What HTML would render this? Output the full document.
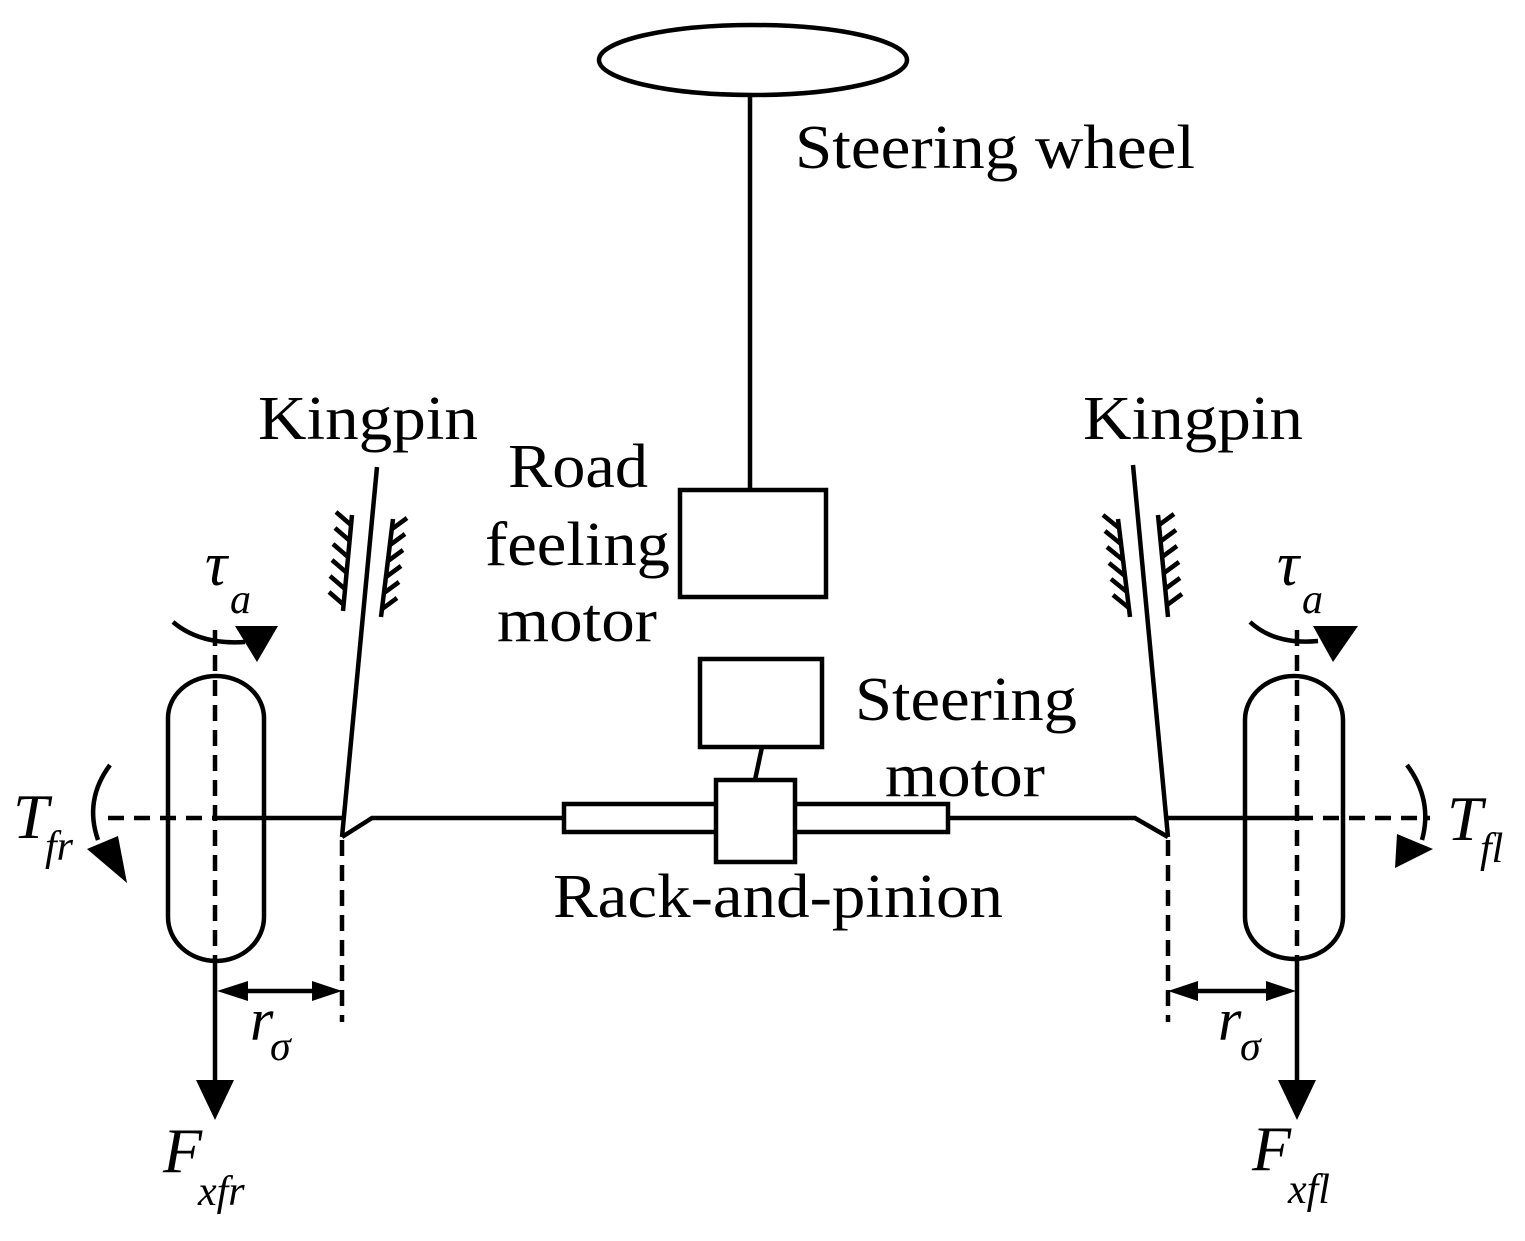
<!DOCTYPE html>
<html><head><meta charset="utf-8"><style>
html,body{margin:0;padding:0;background:#fff;}
svg{display:block;}
text{font-family:"Liberation Serif",serif;fill:#000;}
.it{font-style:italic;}
</style></head><body>
<svg width="1525" height="1241" viewBox="0 0 1525 1241" xmlns="http://www.w3.org/2000/svg">
<g stroke="#000" stroke-width="4.5" fill="none" stroke-linecap="butt">
<ellipse cx="753" cy="60" rx="154" ry="35"/>
<line x1="750" y1="95" x2="750" y2="490"/>
<rect x="680" y="490" width="146" height="107"/>
<rect x="700" y="659" width="122" height="88"/>
<line x1="762" y1="747" x2="755" y2="780"/>
<rect x="564" y="804" width="384" height="28"/>
<rect x="716" y="780" width="79" height="82" fill="#fff"/>
<polyline points="342,837 372,818 564,818"/>
<polyline points="948,818 1135,818 1168,837"/>
<line x1="215" y1="818" x2="342" y2="818"/>
<line x1="1168" y1="818" x2="1297" y2="818"/>
<line x1="108" y1="818" x2="215" y2="818" stroke-dasharray="16,10"/>
<line x1="1297" y1="818" x2="1430" y2="818" stroke-dasharray="16,10"/>
<line x1="377" y1="467" x2="342" y2="837"/>
<line x1="1133" y1="465" x2="1168" y2="837"/>
<line x1="342" y1="840" x2="342" y2="1022" stroke-dasharray="16,9"/>
<line x1="1168" y1="840" x2="1168" y2="1022" stroke-dasharray="16,9"/>
<line x1="352" y1="515" x2="343" y2="611"/>
<path d="M351,525 l-15,-13 M350,541 l-15,-13 M348,557 l-15,-13 M347,573 l-15,-13 M345,589 l-15,-13 M344,605 l-15,-13"/>
<line x1="393" y1="519" x2="381" y2="617"/>
<path d="M392,529 l15,-11 M390,545 l15,-11 M388,561 l15,-11 M386,577 l15,-11 M384,593 l15,-11 M382,609 l15,-11"/>
<line x1="1118" y1="519" x2="1130" y2="617"/>
<path d="M1119,528 l-16,-13 M1121,544 l-16,-13 M1123,560 l-16,-13 M1125,576 l-16,-13 M1127,592 l-16,-13 M1129,608 l-16,-13"/>
<line x1="1158" y1="515" x2="1168" y2="617"/>
<path d="M1159,525 l15,-11 M1161,541 l15,-11 M1162,557 l15,-11 M1164,573 l15,-11 M1165,589 l15,-11 M1167,605 l15,-11"/>
<path d="M168,718 A48,42 0 0 1 264,718 L264,917 A48,44 0 0 1 168,917 Z"/>
<path d="M1245,720 A49,44 0 0 1 1343,720 L1343,917 A49,42 0 0 1 1245,917 Z"/>
<line x1="215" y1="630" x2="215" y2="961" stroke-dasharray="16,9"/>
<line x1="1297" y1="630" x2="1297" y2="959" stroke-dasharray="16,9"/>
<line x1="215" y1="961" x2="215" y2="1085"/>
<line x1="1297" y1="959" x2="1297" y2="1085"/>
<line x1="230" y1="991" x2="330" y2="991"/>
<line x1="1180" y1="991" x2="1285" y2="991"/>
<path d="M173,622 Q200,645 245,642"/>
<path d="M1250,622 Q1275,645 1318,641"/>
<path d="M110,765 Q84,800 98,840"/>
<path d="M1407,765 Q1433,800 1422,840"/>
</g>
<g fill="#000">
<polygon points="235,626 278,626 257,662"/>
<polygon points="1313,626 1358,626 1333,662"/>
<polygon points="87,849 118,836 127,883"/>
<polygon points="1397,834 1433,849 1395,868"/>
<polygon points="196,1080 234,1080 215,1120"/>
<polygon points="1278,1080 1316,1080 1297,1120"/>
<polygon points="217,991 248,981 248,1001"/>
<polygon points="342,991 312,981 312,1001"/>
<polygon points="1168,991 1198,981 1198,1001"/>
<polygon points="1296,991 1266,981 1266,1001"/>
</g>
<text x="795" y="168" font-size="62" textLength="400" lengthAdjust="spacingAndGlyphs">Steering wheel</text>
<text x="258" y="439" font-size="62" textLength="220" lengthAdjust="spacingAndGlyphs">Kingpin</text>
<text x="1083" y="439" font-size="62" textLength="220" lengthAdjust="spacingAndGlyphs">Kingpin</text>
<text x="508" y="487" font-size="62" textLength="140" lengthAdjust="spacingAndGlyphs">Road</text>
<text x="485" y="565" font-size="62" textLength="185" lengthAdjust="spacingAndGlyphs">feeling</text>
<text x="497" y="641" font-size="62" textLength="160" lengthAdjust="spacingAndGlyphs">motor</text>
<text x="855" y="720" font-size="62" textLength="222" lengthAdjust="spacingAndGlyphs">Steering</text>
<text x="885" y="796" font-size="62" textLength="160" lengthAdjust="spacingAndGlyphs">motor</text>
<text x="553" y="917" font-size="62" textLength="450" lengthAdjust="spacingAndGlyphs">Rack-and-pinion</text>
<text class="it" x="205" y="585" font-size="62">τ</text>
<text class="it" x="230" y="613" font-size="42">a</text>
<text class="it" x="1277" y="585" font-size="62">τ</text>
<text class="it" x="1302" y="613" font-size="42">a</text>
<text class="it" x="13" y="838" font-size="64">T</text>
<text class="it" x="45" y="860" font-size="42">fr</text>
<text class="it" x="1447" y="840" font-size="64">T</text>
<text class="it" x="1480" y="862" font-size="42">fl</text>
<text class="it" x="163" y="1172" font-size="64">F</text>
<text class="it" x="198" y="1205" font-size="42">xfr</text>
<text class="it" x="1252" y="1170" font-size="64">F</text>
<text class="it" x="1288" y="1203" font-size="42">xfl</text>
<text class="it" x="250" y="1040" font-size="60">r</text>
<text class="it" x="270" y="1060" font-size="42">σ</text>
<text class="it" x="1218" y="1040" font-size="60">r</text>
<text class="it" x="1240" y="1060" font-size="42">σ</text>
</svg>
</body></html>
